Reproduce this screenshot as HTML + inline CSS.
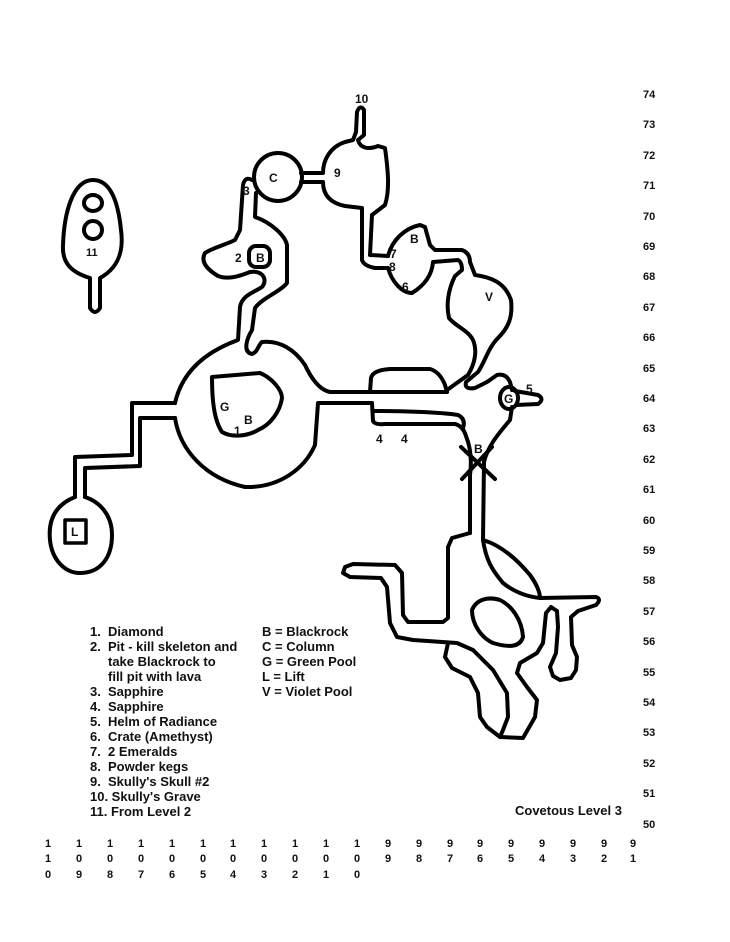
<!DOCTYPE html>
<html><head><meta charset="utf-8"><style>
html,body{margin:0;padding:0;background:#fff;width:730px;height:942px;overflow:hidden}
svg{display:block}
text{font-family:"Liberation Sans",Arial,sans-serif;font-weight:bold;fill:#111}
.m{font-size:12px}
.ax{font-size:11px;fill:#333}
.lg{font-size:13px}
</style></head><body>
<svg width="730" height="942" viewBox="0 0 730 942" xmlns="http://www.w3.org/2000/svg">
<g fill="none" stroke="#000" stroke-width="4" stroke-linejoin="round" stroke-linecap="round">
<path d="M93,180 C110,180 118,200 121,230 C124,252 118,268 100,278 L100,308 Q95,316 90,308 L90,278 C70,272 62,262 63,245 C64,215 72,180 93,180 Z"/>
<ellipse cx="93" cy="203" rx="9" ry="8"/>
<ellipse cx="93" cy="230" rx="9" ry="9"/>
<path d="M75,497 L75,457 L132,455 L132,403 L175,403"/>
<path d="M85,497 L85,468 L140,466 L140,418 L175,418"/>
<path d="M75,497 C55,505 48,520 50,540 C52,560 65,573 80,573 C100,573 112,558 112,535 C112,515 100,502 85,497"/>
<rect x="65" y="520" width="21" height="23" stroke-width="3.5"/>
<path d="M175,403 C182,372 205,352 238,340 L240,307 C242,295 255,292 262,287 C268,280 263,270 250,272 C240,276 228,280 218,276 C208,270 200,262 205,253 C212,248 225,245 235,240 L240,230 L243,185 Q245,176 252,180"/>
<path d="M256,193 L255,217 C270,222 285,235 287,245 L287,283 C280,292 262,298 255,308 L252,330 C246,340 243,352 252,354 C258,352 258,345 262,342 C280,340 295,350 305,365 C312,380 320,390 330,392 L447,392"/>
<path d="M175,418 C180,450 205,478 245,487 C280,488 305,468 315,445 L318,403 L372,403"/>
<path d="M212,377 L260,373 C272,378 282,390 282,398 C280,412 270,425 258,430 C248,436 232,438 222,432 C214,420 212,400 212,377 Z"/>
<rect x="249" y="246" width="21" height="21" rx="7"/>
<circle cx="278" cy="177" r="24"/>
<path d="M301,173 L323,173 C323,160 330,147 345,142 L353,140 L356,132 L357,112 Q360,104 364,110 L364,135 L358,140 C360,148 368,150 378,146 L385,148 C388,170 390,190 385,205 L372,215 L370,255 L388,256"/>
<path d="M301,182 L323,182 C323,195 330,203 345,206 L362,208 L362,260 Q364,266 375,268 L388,268"/>
<path d="M388,256 C392,240 405,228 420,225 L425,227 L430,245 L435,250 L462,250 Q470,253 470,262 L475,275 C490,277 505,282 511,300 C513,318 508,328 498,338 C488,348 485,362 478,372 L466,382 Q464,390 475,388 L487,382 L497,375 Q506,373 510,382 L512,390"/>
<path d="M388,268 C392,282 402,293 412,293 C425,285 432,275 433,262 L458,260 Q462,262 462,270 L455,276 C448,290 446,305 449,318 C455,326 468,330 473,340 C478,352 474,365 468,375 L447,390"/>
<path d="M370,392 L371,378 Q373,370 390,369 L430,369 Q440,372 445,385 L447,392"/>
<ellipse cx="509" cy="398" rx="9" ry="11"/>
<path d="M515,391 L538,395 Q545,399 538,404 L516,405"/>
<path d="M512,407 L510,420 C500,432 488,445 484,462 L483,540"/>
<path d="M372,403 L373,421 Q375,425 385,424 L455,424 Q463,426 466,436 C470,446 472,460 470,475 L470,533"/>
<path d="M374,411 C400,411 440,412 458,415 Q466,419 463,428"/>
<path d="M461,447 L495,479 M492,447 L462,479"/>
<path d="M470,533 L452,538 L448,547 L448,618 L443,622 L408,622 L403,615 L402,573 L395,565 L353,564 L345,567 L343,573 L350,577 L381,578 L387,587 L390,623 L397,637 L413,640 L457,643 L473,650 L493,670 L507,693 L508,717 L503,730 L500,737"/>
<path d="M448,643 L445,657 L452,668 L470,677 L478,693 L480,717 L487,727 L500,737 L523,738 L535,717 L537,700 L527,687 L517,673 L520,663 L537,653 L543,643 L546,613 L551,607 L557,611 L558,627 L556,653 L550,667 L553,676 L560,680 L571,678 L576,670 L577,657 L572,645 L571,617 L578,611 L596,605 Q602,599 596,597 L540,598"/>
<path d="M483,540 C500,545 515,557 530,575 C536,583 540,592 540,598 C530,597 517,594 503,583 C492,570 486,560 483,540"/>
<path d="M472,610 C476,600 487,596 500,600 C512,606 522,620 523,637 C520,647 510,648 493,643 C482,638 472,625 472,610 Z"/>
</g>
<g class="m">
<text x="355" y="103">10</text>
<text x="334" y="177">9</text>
<text x="269" y="182">C</text>
<text x="243" y="195">3</text>
<text x="410" y="243">B</text>
<text x="390" y="258">7</text>
<text x="389" y="271">8</text>
<text x="402" y="291">6</text>
<text x="485" y="301">V</text>
<text x="235" y="262">2</text>
<text x="256" y="262">B</text>
<text x="220" y="411">G</text>
<text x="244" y="424">B</text>
<text x="234" y="435">1</text>
<text x="376" y="443">4</text>
<text x="401" y="443">4</text>
<text x="526" y="393">5</text>
<text x="504" y="403">G</text>
<text x="474" y="453">B</text>
<text x="71" y="536">L</text>
<text x="86" y="256" style="font-size:11px">11</text>
</g>
<g class="ax">
<text x="643" y="98">74</text><text x="643" y="128">73</text><text x="643" y="159">72</text><text x="643" y="189">71</text><text x="643" y="220">70</text><text x="643" y="250">69</text><text x="643" y="280">68</text><text x="643" y="311">67</text><text x="643" y="341">66</text><text x="643" y="372">65</text><text x="643" y="402">64</text><text x="643" y="432">63</text><text x="643" y="463">62</text><text x="643" y="493">61</text><text x="643" y="524">60</text><text x="643" y="554">59</text><text x="643" y="584">58</text><text x="643" y="615">57</text><text x="643" y="645">56</text><text x="643" y="676">55</text><text x="643" y="706">54</text><text x="643" y="736">53</text><text x="643" y="767">52</text><text x="643" y="797">51</text><text x="643" y="828">50</text>
</g>
<g class="ax" text-anchor="middle">
<text y="847"><tspan x="48">1</tspan><tspan x="79">1</tspan><tspan x="110">1</tspan><tspan x="141">1</tspan><tspan x="172">1</tspan><tspan x="203">1</tspan><tspan x="233">1</tspan><tspan x="264">1</tspan><tspan x="295">1</tspan><tspan x="326">1</tspan><tspan x="357">1</tspan><tspan x="388">9</tspan><tspan x="419">9</tspan><tspan x="450">9</tspan><tspan x="480">9</tspan><tspan x="511">9</tspan><tspan x="542">9</tspan><tspan x="573">9</tspan><tspan x="604">9</tspan><tspan x="633">9</tspan></text>
<text y="862"><tspan x="48">1</tspan><tspan x="79">0</tspan><tspan x="110">0</tspan><tspan x="141">0</tspan><tspan x="172">0</tspan><tspan x="203">0</tspan><tspan x="233">0</tspan><tspan x="264">0</tspan><tspan x="295">0</tspan><tspan x="326">0</tspan><tspan x="357">0</tspan><tspan x="388">9</tspan><tspan x="419">8</tspan><tspan x="450">7</tspan><tspan x="480">6</tspan><tspan x="511">5</tspan><tspan x="542">4</tspan><tspan x="573">3</tspan><tspan x="604">2</tspan><tspan x="633">1</tspan></text>
<text y="878"><tspan x="48">0</tspan><tspan x="79">9</tspan><tspan x="110">8</tspan><tspan x="141">7</tspan><tspan x="172">6</tspan><tspan x="203">5</tspan><tspan x="233">4</tspan><tspan x="264">3</tspan><tspan x="295">2</tspan><tspan x="326">1</tspan><tspan x="357">0</tspan></text>
</g>
<g class="lg">
<text x="90" y="636">1.</text><text x="108" y="636">Diamond</text>
<text x="90" y="651">2.</text><text x="108" y="651">Pit - kill skeleton and</text>
<text x="108" y="666">take Blackrock to</text>
<text x="108" y="681">fill pit with lava</text>
<text x="90" y="696">3.</text><text x="108" y="696">Sapphire</text>
<text x="90" y="711">4.</text><text x="108" y="711">Sapphire</text>
<text x="90" y="726">5.</text><text x="108" y="726">Helm of Radiance</text>
<text x="90" y="741">6.</text><text x="108" y="741">Crate (Amethyst)</text>
<text x="90" y="756">7.</text><text x="108" y="756">2 Emeralds</text>
<text x="90" y="771">8.</text><text x="108" y="771">Powder kegs</text>
<text x="90" y="786">9.</text><text x="108" y="786">Skully's Skull #2</text>
<text x="90" y="801">10. Skully's Grave</text>
<text x="90" y="816">11. From Level 2</text>
<text x="262" y="636">B = Blackrock</text>
<text x="262" y="651">C = Column</text>
<text x="262" y="666">G = Green Pool</text>
<text x="262" y="681">L = Lift</text>
<text x="262" y="696">V = Violet Pool</text>
<text x="515" y="815">Covetous Level 3</text>
</g>
</svg>
</body></html>
